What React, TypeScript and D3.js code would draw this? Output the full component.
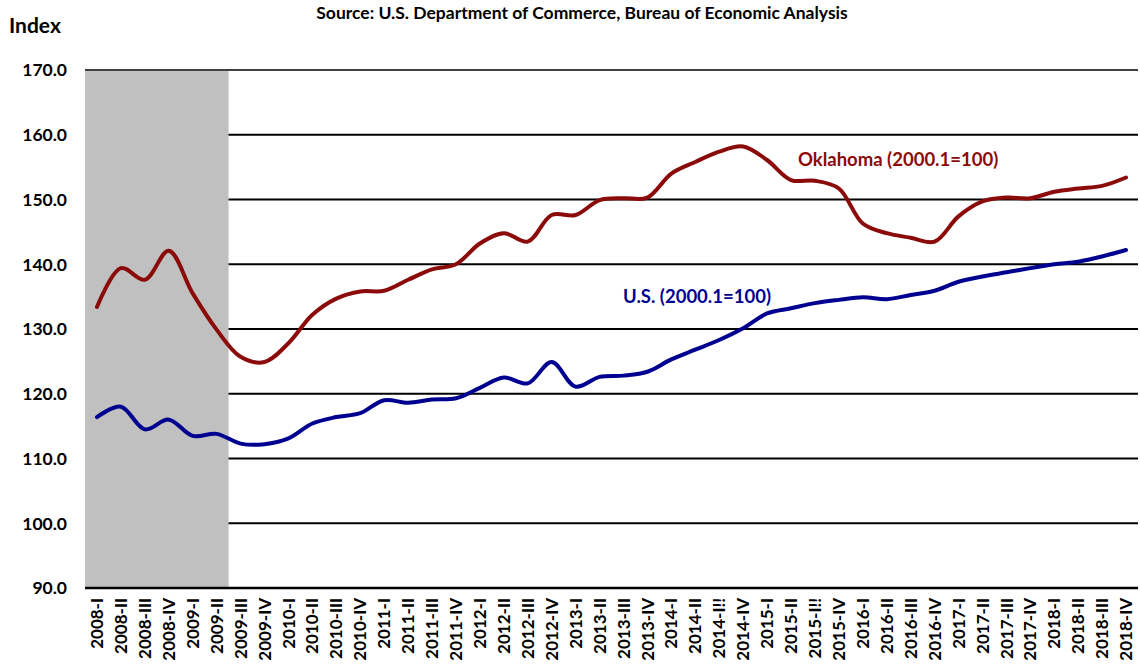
import React from "react";
import * as d3 from "d3";

const categories = [
  "2008-I","2008-II","2008-III","2008-IV",
  "2009-I","2009-II","2009-III","2009-IV",
  "2010-I","2010-II","2010-III","2010-IV",
  "2011-I","2011-II","2011-III","2011-IV",
  "2012-I","2012-II","2012-III","2012-IV",
  "2013-I","2013-II","2013-III","2013-IV",
  "2014-I","2014-II","2014-I!!","2014-IV",
  "2015-I","2015-II","2015-I!!","2015-IV",
  "2016-I","2016-II","2016-III","2016-IV",
  "2017-I","2017-II","2017-III","2017-IV",
  "2018-I","2018-II","2018-III","2018-IV",
];

const oklahoma = [
  133.4, 139.4, 137.6, 142.1,
  135.5, 129.9, 125.7, 124.9,
  127.8, 132.2, 134.7, 135.8,
  135.9, 137.6, 139.2, 140.0,
  143.2, 144.8, 143.5, 147.6,
  147.6, 149.9, 150.2, 150.3,
  154.0, 155.8, 157.4, 158.2,
  156.1, 153.0, 152.9, 151.7,
  146.3, 144.8, 144.1, 143.5,
  147.4, 149.7, 150.3, 150.2,
  151.2, 151.7, 152.1, 153.4,
];

const us = [
  116.4, 118.0, 114.5, 116.0,
  113.5, 113.8, 112.3, 112.2,
  113.1, 115.4, 116.4, 117.0,
  119.0, 118.6, 119.1, 119.3,
  120.9, 122.5, 121.6, 124.9,
  121.1, 122.6, 122.8, 123.4,
  125.3, 126.8, 128.3, 130.1,
  132.4, 133.2, 134.0, 134.5,
  134.9, 134.6, 135.25, 135.9,
  137.3, 138.1, 138.75, 139.4,
  140.0, 140.4, 141.2, 142.2,
];

const yTicks = [90, 100, 110, 120, 130, 140, 150, 160, 170];
const recessionCount = 6; // 2008-I .. 2009-II

const FONT = "Lato, 'Open Sans', sans-serif";
const RED = "#8b0a0a";
const BLUE = "#000090";

export default function App() {
  const W = 1140, H = 667;
  const left = 85, right = 1138, top = 70, bottom = 588;

  const x = d3.scaleBand<string>().domain(categories).range([left, right]).padding(0);
  const y = d3.scaleLinear().domain([90, 170]).range([bottom, top]);
  const cx = (c: string) => (x(c) as number) + x.bandwidth() / 2;

  const line = d3
    .line<number>()
    .x((_, i) => cx(categories[i]))
    .y((d) => y(d))
    .curve(d3.curveCatmullRom.alpha(0.5));

  const recEnd = (x(categories[recessionCount - 1]) as number) + x.bandwidth();

  return (
    <svg
      width={W}
      height={H}
      style={{ position: "absolute", left: 0, top: 0, background: "#fff" }}
      fontFamily={FONT}
    >
      <text x={582} y={19} textAnchor="middle" fontSize={17.5} fontWeight="bold" fill="#000">
        Source: U.S. Department of Commerce, Bureau of Economic Analysis
      </text>
      <text x={9} y={33} fontSize={21} fontWeight="bold" fill="#000">
        Index
      </text>

      {yTicks.map((t) => (
        <g key={t}>
          {t !== 90 && t !== 170 && (
            <line x1={left} x2={right} y1={y(t)} y2={y(t)} stroke="#000" strokeWidth={2} />
          )}
          <text
            x={67}
            y={y(t)}
            dy="0.36em"
            textAnchor="end"
            fontSize={17.5}
            fontWeight="bold"
            fill="#000"
          >
            {t.toFixed(1)}
          </text>
        </g>
      ))}

      <rect x={left} y={top} width={recEnd - left} height={bottom - top} fill="#c0c0c0" />

      <line x1={left} x2={right} y1={y(170)} y2={y(170)} stroke="#404040" strokeWidth={2} />
      <line x1={left} x2={right} y1={y(90)} y2={y(90)} stroke="#000" strokeWidth={2.5} />

      <path d={line(us) || ""} fill="none" stroke={BLUE} strokeWidth={4} strokeLinejoin="round" strokeLinecap="round" />
      <path d={line(oklahoma) || ""} fill="none" stroke={RED} strokeWidth={4} strokeLinejoin="round" strokeLinecap="round" />

      <text x={798} y={166} fontSize={18.5} fontWeight="bold" fill={RED}>
        Oklahoma (2000.1=100)
      </text>
      <text x={623} y={303} fontSize={18.5} fontWeight="bold" fill={BLUE}>
        U.S. (2000.1=100)
      </text>

      {categories.map((c) => (
        <text
          key={c}
          transform={`translate(${cx(c)},598) rotate(-90)`}
          textAnchor="end"
          dy="0.36em"
          fontSize={17}
          fontWeight="bold"
          fill="#000"
        >
          {c}
        </text>
      ))}
    </svg>
  );
}
